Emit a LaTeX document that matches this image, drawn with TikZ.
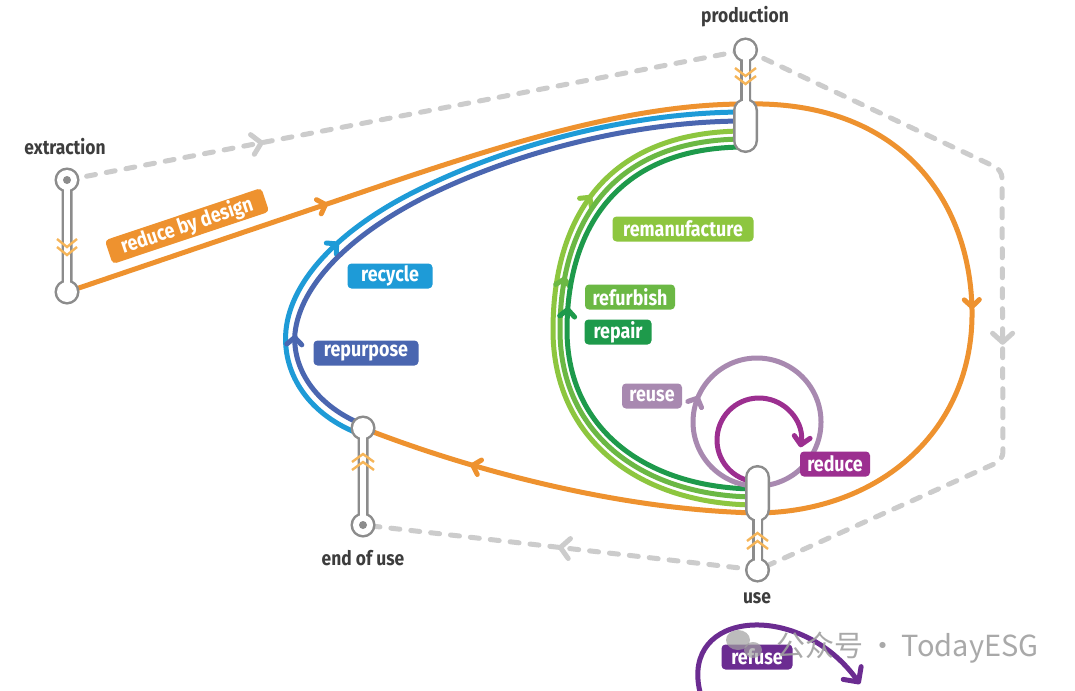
\documentclass[tikz,border=0pt]{standalone}
\usepackage{fontspec}
\usepackage{graphicx}
\setmainfont{Fira Sans}
\newfontfamily\cjkfont{Noto Sans CJK SC}
\usetikzlibrary{arrows.meta,decorations.markings}
\definecolor{cOrange}{HTML}{EE922F}
\definecolor{cChev}{HTML}{F6B558}
\definecolor{cRecycle}{HTML}{1E9BD7}
\definecolor{cRepurpose}{HTML}{4A66B0}
\definecolor{cReman}{HTML}{8DC63F}
\definecolor{cRefurb}{HTML}{6BB844}
\definecolor{cRepair}{HTML}{1E9A4B}
\definecolor{cReuse}{HTML}{A889B0}
\definecolor{cReduce}{HTML}{9C2F90}
\definecolor{cRefuse}{HTML}{6B2C91}
\definecolor{cDash}{HTML}{CCCCCC}
\definecolor{cStation}{HTML}{8C8C8C}
\definecolor{cText}{HTML}{3D3D3D}
\definecolor{cMark}{HTML}{A0A0A0}
\newcommand\cond[1]{\scalebox{0.85}[1]{#1}}
\newcommand\condst[1]{\scalebox{0.87}[1]{#1}}
\newcommand\stationshape[3]{\path[draw=cStation,line width=5pt] #1 #2 #3; \fill[white] #1; \fill[white] #2; \fill[white] #3;}
\tikzset{
  flow/.style={line width=5pt, line cap=round, draw=#1},
  dashflow/.style={draw=cDash, line width=5pt, line cap=round, dash pattern=on 9pt off 11pt},
  tipat/.style={postaction={decorate}, decoration={markings, mark=at position #1 with {\arrow{Straight Barb[length=7pt,width=15pt,round]}}}},
  graytipat/.style={postaction={decorate}, decoration={markings, mark=at position #1 with {\arrow{Straight Barb[length=9pt,width=20pt,round]}}}},
  flowtag/.style={fill=#1, rounded corners=4pt, text=white, minimum height=25pt, inner sep=0pt, font=\fontsize{21}{23}\selectfont\bfseries},
  station/.style={text=cText, font=\fontsize{20}{22}\selectfont\bfseries},
  chev/.style={draw=cChev, line width=2.4pt},
}
\begin{document}
\begin{tikzpicture}[x=1pt,y=-1pt]
\fill[white] (0,0) rectangle (1075,690);
\path[use as bounding box] (0,0) rectangle (1075,690);

% stations and ports
\coordinate (exTop) at (67,180);
\coordinate (exBot) at (67,292);
\coordinate (prTop) at (745.5,50);
\coordinate (useBot) at (757.5,570);
\coordinate (eouTop) at (363,428);
\coordinate (eouBot) at (363,525);
\coordinate (cA) at (1002,170);
\coordinate (cB) at (1003,460);
\coordinate (od1) at (330,203);
\coordinate (oR) at (972,310);
\coordinate (prIn1) at (745,104);
\coordinate (prIn2) at (745,112);
\coordinate (prIn3) at (745,121);
\coordinate (prIn4) at (745,131);
\coordinate (prIn5) at (745,139);
\coordinate (prIn6) at (745,147);
\coordinate (useIn1) at (757,513);
\coordinate (useIn2) at (757,505);
\coordinate (useIn3) at (757,497);
\coordinate (useIn4) at (757,489);
\coordinate (eouIn1) at (357,433);
\coordinate (eouIn2) at (359,423);
\coordinate (reuseC) at (757,422);
\coordinate (reduceC) at (759,440);
\coordinate (rfS) at (700,692);
\coordinate (rfE) at (860,684);

% dashed material flow
\draw[dashflow, graytipat=0.29] (exTop) -- (prTop);
\draw[dashflow, rounded corners=8pt, graytipat=0.544] (prTop) -- (cA) -- (cB) -- (useBot);
\draw[dashflow, graytipat=0.506] (useBot) -- (eouBot);

% orange loop
\draw[flow=cOrange, tipat=0.39] (exBot) -- (od1) .. controls (480,152) and (620,104) .. (prIn1);
\draw[flow=cOrange, tipat=0.51] (prIn1) .. controls (900,100) and (970,200) .. (oR) .. controls (974,430) and (880,512) .. (useIn1);
\draw[flow=cOrange, tipat=0.72] (useIn1) .. controls (620,510) and (470,470) .. (eouTop);

% blue loops
\draw[flow=cRecycle, tipat=0.355] (eouIn1) .. controls (305,412) and (282,370) .. (286,330) .. controls (291,280) and (340,228) .. (420,189) .. controls (520,140) and (640,112) .. (prIn2);
\draw[flow=cRepurpose, tipat=0.18] (eouIn2) .. controls (315,404) and (292,368) .. (295,333) .. controls (300,287) and (346,237) .. (425,197) .. controls (524,148) and (642,121) .. (prIn3);

% green loops
\draw[flow=cReman, tipat=0.72] (useIn2) .. controls (640,505) and (553,440) .. (553,330) .. controls (553,225) and (600,131) .. (prIn4);
\draw[flow=cRefurb, tipat=0.58] (useIn3) .. controls (645,497) and (560,436) .. (560,330) .. controls (560,230) and (606,139) .. (prIn5);
\draw[flow=cRepair, tipat=0.53] (useIn4) .. controls (650,489) and (567,432) .. (567,330) .. controls (567,235) and (612,147) .. (prIn6);

% reuse / reduce loops
\draw[flow=cReuse, tipat=0.317] (reuseC) ++(90:64) arc[start angle=90, end angle=450, radius=64];
\draw[flow=cReduce, -{Straight Barb[length=8pt,width=16pt,round]}] (reduceC) ++(100:42) arc[start angle=100, end angle=370, radius=42];

% stations
\stationshape{(exTop) circle[radius=10]}{(exBot) circle[radius=10]}{(64,180) rectangle (70,292)}
\fill[cStation] (exTop) circle[radius=4];
\stationshape{(prTop) circle[radius=10]}{(742.5,55) rectangle (748.5,102)}{[rounded corners=10pt] (735.5,100.5) rectangle (755.5,150.5)}
\stationshape{(useBot) circle[radius=10]}{(754.5,515) rectangle (760.5,565)}{[rounded corners=10pt] (747.5,467.5) rectangle (767.5,519.5)}
\stationshape{(eouTop) circle[radius=10]}{(eouBot) circle[radius=10]}{(360,428) rectangle (366,525)}
\fill[cStation] (eouBot) circle[radius=4];

% chevrons
\draw[chev] (57,239) -- (67,247) -- (77,239) (57,247) -- (67,255) -- (77,247);
\draw[chev] (735,68) -- (745.5,76) -- (756,68) (735,76) -- (745.5,84) -- (756,76);
\draw[chev] (352,462) -- (363,454) -- (374,462) (352,470) -- (363,462) -- (374,470);
\draw[chev] (747,541) -- (757.5,533) -- (768,541) (747,549) -- (757.5,541) -- (768,549);

% station labels
\node[station] (lExtr) at (65,147) {\condst{extraction}};
\node[station] (lProd) at (745,17) {\condst{production}};
\node[station] (lEou) at (363,558) {\condst{end of use}};
\node[station] (lUse) at (757,598) {\condst{use}};

% flow labels
\node[flowtag=cOrange, minimum width=165pt, rotate=18.5] (tRbd) at (187,226) {\cond{reduce by design}};
\node[flowtag=cRecycle, minimum width=85pt] (tRecycle) at (390,276) {\cond{recycle}};
\node[flowtag=cRepurpose, minimum width=105pt] (tRepurpose) at (366,353) {\cond{repurpose}};
\node[flowtag=cReman, minimum width=141pt] (tReman) at (683,229) {\cond{remanufacture}};
\node[flowtag=cRefurb, minimum width=90pt] (tRefurb) at (630,297) {\cond{refurbish}};
\node[flowtag=cRepair, minimum width=67pt] (tRepair) at (618,332) {\cond{repair}};
\node[flowtag=cReuse, minimum width=60pt] (tReuse) at (652,396) {\cond{reuse}};
\node[flowtag=cReduce, minimum width=70pt] (tReduce) at (835,464) {\cond{reduce}};

% refuse
\draw[flow=cRefuse, -{Straight Barb[length=11pt,width=22pt,round]}] (rfS) .. controls (680,610) and (800,600) .. (rfE);
\node[flowtag=cRefuse, minimum width=71pt] (tRefuse) at (757,657) {\cond{refuse}};

% watermark
\fill[cMark, opacity=0.7] (738,640) ellipse[x radius=12, y radius=10];
\fill[cMark, opacity=0.7] (753,650) ellipse[x radius=9, y radius=8];
\node[text=cMark, font=\cjkfont\fontsize{29}{32}\selectfont, anchor=west, opacity=0.9, inner sep=0pt] (wm) at (776,648) {公众号\,·\,TodayESG};
\end{tikzpicture}
\end{document}
